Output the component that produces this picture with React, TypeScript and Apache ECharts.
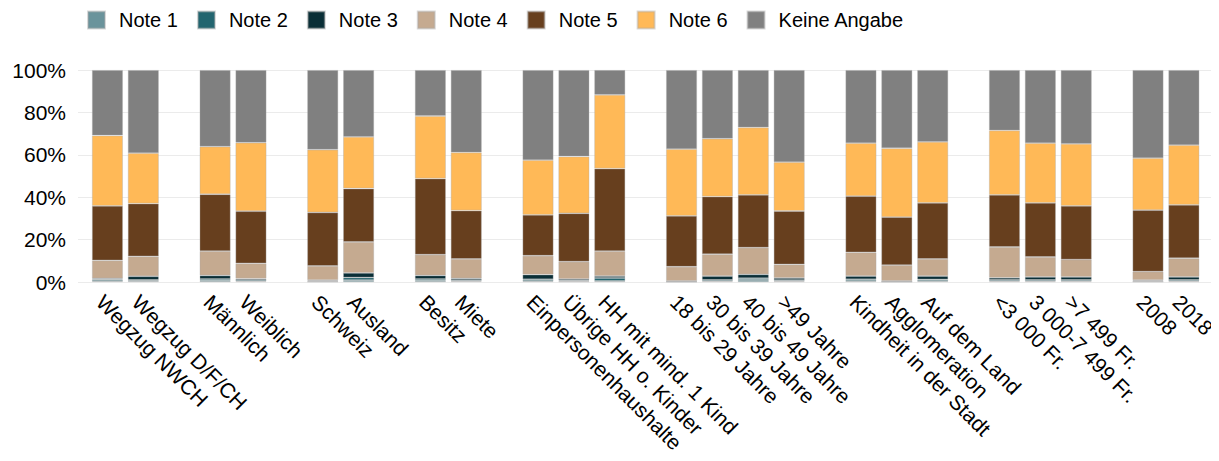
import React, { useEffect, useRef } from "react";
import * as echarts from "echarts";

const groups: string[][] = [
  ["Wegzug NWCH", "Wegzug D/F/CH"],
  ["Männlich", "Weiblich"],
  ["Schweiz", "Ausland"],
  ["Besitz", "Miete"],
  ["Einpersonenhaushalte", "Übrige HH o. Kinder", "HH mit mind. 1 Kind"],
  ["18 bis 29 Jahre", "30 bis 39 Jahre", "40 bis 49 Jahre", ">49 Jahre"],
  ["Kindheit in der Stadt", "Agglomeration", "Auf dem Land"],
  ["<3 000 Fr.", "3 000-7 499 Fr.", ">7 499 Fr."],
  ["2008", "2018"],
];

const seriesNames = ["Note 1", "Note 2", "Note 3", "Note 4", "Note 5", "Note 6", "Keine Angabe"];
const colors = ["#6a939b", "#22656f", "#0a2f37", "#c5aa90", "#673f1e", "#ffb957", "#808080"];

const note1 = [0.5, 0.5, 0.6, 0.4, 0.2, 0.9, 0.6, 0.4, 0.5, 0.3, 0.5, 0.1, 0.4, 1.0, 0.4, 0.5, 0.1, 0.5, 0.4, 0.4, 0.4, 0.2, 0.4];
const note2 = [0.7, 0.5, 0.8, 0.6, 0.3, 1.2, 0.8, 0.5, 0.8, 0.4, 1.4, 0.2, 0.6, 0.8, 0.5, 0.8, 0.2, 0.7, 0.6, 0.6, 0.6, 0.3, 0.6];
const note3 = [0.5, 1.7, 1.7, 0.6, 0.4, 2.2, 1.7, 0.8, 2.2, 0.7, 0.9, 0.2, 1.8, 1.8, 1.0, 1.5, 0.2, 1.6, 1.0, 1.4, 1.4, 0.4, 1.4];
const note4 = [8.5, 9.4, 11.5, 7.2, 6.7, 14.6, 9.8, 9.2, 8.9, 8.2, 11.8, 6.7, 10.3, 12.6, 6.4, 11.2, 7.5, 8.1, 14.5, 9.4, 8.2, 4.0, 8.8];
const note5 = [25.7, 24.9, 26.8, 24.6, 25.2, 25.2, 35.9, 22.8, 19.3, 22.8, 38.9, 24.0, 27.2, 24.9, 25.2, 26.5, 22.6, 26.4, 24.6, 25.5, 25.3, 29.0, 25.2];
const note6 = [33.2, 23.8, 22.5, 32.3, 29.6, 24.4, 29.5, 27.4, 25.8, 26.8, 34.8, 31.5, 27.3, 31.8, 23.0, 25.0, 32.5, 28.8, 30.4, 28.2, 29.3, 24.5, 28.2];
const keineAngabe = [30.9, 39.2, 36.1, 34.3, 37.6, 31.5, 21.7, 38.9, 42.5, 40.8, 11.7, 37.3, 32.4, 27.1, 43.5, 34.5, 36.9, 33.9, 28.5, 34.5, 34.8, 41.6, 35.4];

const yTicks = [0, 20, 40, 60, 80, 100];

const allValues = [note1, note2, note3, note4, note5, note6, keineAngabe];

export default function App() {
  const ref = useRef<HTMLDivElement>(null);
  useEffect(() => {
    if (!ref.current) return;
    const chart = echarts.init(ref.current, null, { renderer: "svg" });

    // build categories with empty slots between groups
    const categories: string[] = [];
    const indexMap: number[] = [];
    let k = 0;
    groups.forEach((g, gi) => {
      if (gi > 0) {
        categories.push(" ".repeat(gi));
        indexMap.push(-1);
      }
      g.forEach((c) => {
        categories.push(c);
        indexMap.push(k++);
      });
    });

    const font = "Liberation Sans, Arial, sans-serif";

    const series = seriesNames.map((name, si) => ({
      name,
      type: "bar",
      stack: "total",
      xAxisIndex: 1,
      yAxisIndex: 1,
      barWidth: 31,
      itemStyle: {
        color: colors[si],
        borderColor: "rgba(170,170,170,0.45)",
        borderWidth: 0.8,
      },
      data: indexMap.map((idx) => (idx < 0 ? null : allValues[si][idx])),
    }));

    chart.setOption({
      animation: false,
      legend: {
        top: 5,
        left: 82,
        itemWidth: 17,
        itemHeight: 17,
        itemGap: 19,
        icon: "rect",
        data: seriesNames,
        textStyle: { fontSize: 20, color: "#000", fontFamily: font, padding: [0, 0, 0, 9] },
      },
      grid: [
        { left: 78, right: 6, top: 70, bottom: 179, containLabel: false },
        { left: 89.5, width: 1114.5, top: 70, bottom: 179, containLabel: false },
      ],
      xAxis: [
        { type: "value", gridIndex: 0, show: false, min: 0, max: 1 },
        {
          type: "category",
          gridIndex: 1,
          data: categories,
          axisLine: { show: false },
          axisTick: { show: false },
          axisLabel: {
            interval: 0,
            hideOverlap: false,
            rotate: -45,
            margin: 9,
            verticalAlign: "top",
            fontSize: 21,
            color: "#000",
            fontFamily: font,
          },
        },
      ],
      yAxis: [
        {
          type: "value",
          gridIndex: 0,
          min: 0,
          max: 100,
          interval: 20,
          axisLine: { show: false },
          axisTick: { show: false },
          splitLine: { lineStyle: { color: "#ebebeb", width: 1.2 } },
          axisLabel: {
            fontSize: 21,
            color: "#000",
            fontFamily: font,
            margin: 12,
            formatter: (v: number) => (yTicks.includes(v) ? v + "%" : ""),
          },
        },
        { type: "value", gridIndex: 1, min: 0, max: 100, show: false },
      ],
      series,
    });
    return () => chart.dispose();
  }, []);
  return <div ref={ref} style={{ width: 1219, height: 461, margin: -8 }} />;
}
